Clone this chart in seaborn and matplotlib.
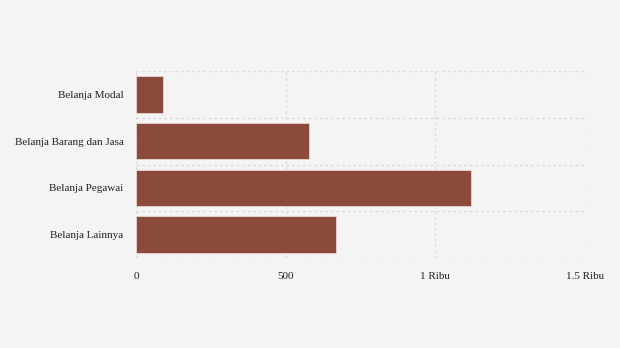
import matplotlib
matplotlib.use("Agg")
import matplotlib.pyplot as plt
import seaborn as sns
import pandas as pd
from matplotlib.ticker import FixedLocator

categories = ["Belanja Modal", "Belanja Barang dan Jasa", "Belanja Pegawai", "Belanja Lainnya"]
values = [91, 577, 1120, 669]
xticks = [0, 500, 1000, 1500]
xtick_labels = ["0", "500", "1 Ribu", "1.5 Ribu"]

df = pd.DataFrame({"kategori": categories, "nilai": values})

sns.set_theme(style="white")
plt.rcParams["font.family"] = ["Liberation Serif", "DejaVu Serif"]

bg = "#f4f4f4"
fig = plt.figure(figsize=(6.2, 3.48), dpi=100, facecolor=bg)
ax = fig.add_axes([136/620, 1-258/348, 449/620, 187/348])
ax.set_facecolor(bg)

sns.barplot(data=df, x="nilai", y="kategori", orient="h", color="#8c4a3b",
            saturation=1, width=0.78, edgecolor="#e9d6d0", linewidth=0.6, ax=ax, zorder=3)

ax.set_xlim(0, 1500)
ax.set_ylim(3.5, -0.5)
ax.set_xticks(xticks)
ax.set_xticklabels(xtick_labels)
ax.yaxis.set_minor_locator(FixedLocator([-0.5, 0.5, 1.5, 2.5, 3.5]))
ax.grid(False)
ax.xaxis.grid(True, which="major", color="#dcdcdc", linestyle=(0, (2, 2)), linewidth=1, zorder=0)
ax.yaxis.grid(True, which="minor", color="#dcdcdc", linestyle=(0, (2, 2)), linewidth=1, zorder=0)
for s in ax.spines.values():
    s.set_visible(False)
ax.set_xlabel("")
ax.set_ylabel("")
ax.tick_params(axis="x", which="both", length=0, pad=10, labelsize=8, colors="#222222")
ax.tick_params(axis="y", which="major", length=4, width=0.8, color="#d0d0d0", pad=5, labelsize=8, labelcolor="#222222")
ax.tick_params(axis="y", which="minor", length=0)

fig.savefig("out.png", dpi=100, facecolor=bg)
